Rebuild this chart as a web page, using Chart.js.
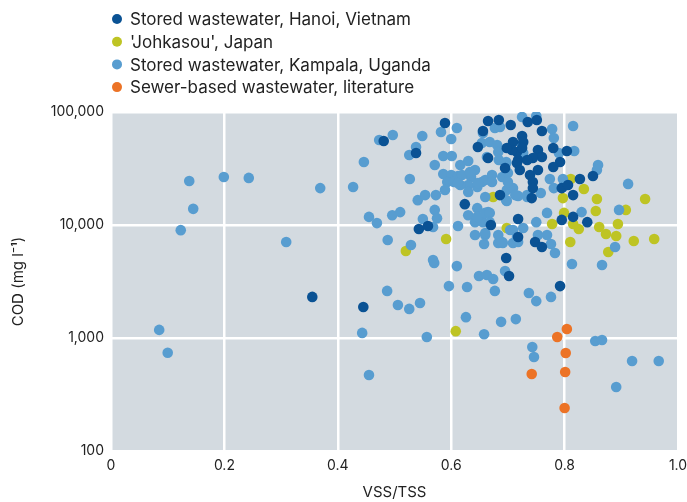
<!DOCTYPE html>
<html>
<head>
<meta charset="utf-8">
<script src="https://cdn.jsdelivr.net/npm/chart.js@4.4.1/dist/chart.umd.min.js"></script>
<style>
  html, body { margin: 0; padding: 0; background: #fff; }
  #wrap { width: 687px; height: 502px; }
</style>
</head>
<body>
<div id="wrap"><canvas id="chart"></canvas></div>
<script>
const seriesNames = ['Stored wastewater, Hanoi, Vietnam', "'Johkasou', Japan", 'Stored wastewater, Kampala, Uganda', 'Sewer-based wastewater, literature'];
const seriesColors = ['#0a5294', '#bec424', '#589dd0', '#ec7326'];

const yTicks = [100, 1000, 10000, 100000];

// Hanoi (VSS/TSS, COD mg/l)
const hanoiX = [0.355,0.445,0.481,0.538,0.589,0.543,0.559,0.624,0.670,0.718,0.718,0.697,0.702,0.792,0.686,0.665,0.684,0.705,0.656,0.647,0.665,0.695,0.716,0.718,0.709,0.735,0.751,0.760,0.725,0.727,0.725,0.707,0.753,0.760,0.744,0.734,0.716,0.721,0.739,0.753,0.780,0.804,0.792,0.780,0.850,0.827,0.744,0.744,0.742,0.815,0.795,0.806,0.815,0.795,0.840,0.748,0.760,0.698];
const hanoiY = [2310,1880,55400,43400,80000,9220,9800,15300,10000,11300,7840,5100,3540,2880,18400,83200,85000,76800,68000,49000,39200,31900,44300,37600,54300,81600,85000,68000,61400,54300,48000,46100,46100,40000,39200,37600,35400,30700,27700,30700,48000,45200,36100,32600,27100,25500,24000,21200,17300,18400,21200,22600,11800,11100,10600,7080,6380,48000];

// Johkasou
const johkasouX = [0.520,0.591,0.608,0.674,0.698,0.811,0.834,0.797,0.857,0.942,0.799,0.855,0.908,0.778,0.815,0.825,0.861,0.894,0.873,0.891,0.922,0.958,0.810,0.877];
const johkasouY = [5890,7520,1150,17700,9400,25500,20800,17300,17000,17000,12800,13300,13600,10200,10200,9220,9600,10200,8320,8000,7210,7520,7080,5770];

// Kampala
const kampalaX = [0.085,0.100,0.123,0.138,0.145,0.199,0.243,0.309,0.369,0.427,0.443,0.455,0.487,0.506,0.526,0.545,0.557,0.596,0.628,0.626,
  0.658,0.649,0.663,0.674,0.677,0.688,0.714,0.695,0.737,0.750,0.776,0.743,0.746,0.854,0.866,0.891,0.919,0.966,0.529,0.570,
  0.610,0.658,0.683,0.691,0.709,0.718,0.488,0.455,0.469,0.496,0.510,0.473,0.497,0.549,0.582,0.600,0.610,0.538,0.526,0.446,
  0.527,0.586,0.601,0.571,0.616,0.630,0.586,0.600,0.612,0.593,0.605,0.589,0.642,0.635,0.630,0.616,0.630,0.654,0.646,0.541,
  0.554,0.573,0.660,0.697,0.698,0.709,0.646,0.665,0.630,0.642,0.656,0.727,0.709,0.642,0.660,0.683,0.571,0.550,0.575,0.568,
  0.612,0.568,0.725,0.750,0.815,0.778,0.781,0.727,0.790,0.817,0.697,0.859,0.857,0.774,0.797,0.781,0.758,0.912,0.718,0.734,
  0.769,0.830,0.896,0.750,0.753,0.769,0.776,0.783,0.889,0.813,0.866,0.677,0.686,0.656,0.654,0.668,0.681,0.663,0.683,0.684,
  0.697,0.619,0.633,0.660,0.672,0.690,0.700,0.700,0.612,0.647,0.672,0.698,0.713,0.646,0.660,0.668,0.668,0.660,0.690,0.734,
  0.797,0.704,0.716,0.725];
const kampalaY = [1180,740,9000,24500,13900,26600,26100,7080,21200,21700,1110,471,2610,1960,1810,2040,1020,2880,2830,1530,
  1080,3540,3610,3330,2610,1390,1470,3920,2500,2120,2310,832,679,940,960,368,625,625,6650,4610,
  4330,6790,6930,6930,6930,7080,7360,11800,10400,12200,13000,56500,62600,61400,66600,57700,72200,49000,41600,36100,
  25500,40800,40800,34000,34000,36800,28300,27700,27100,24000,24000,20400,30700,26600,22600,22600,19600,24000,21700,16600,
  18400,18400,17700,16600,20400,21200,14100,13000,12200,10600,10600,9400,9030,8160,8160,8160,13600,11300,11500,9600,
  9800,4900,90300,92000,75200,70700,58900,43400,43400,45200,36100,34000,30700,25500,25500,21200,19200,23100,18100,17700,
  12800,13000,13600,10600,8160,8160,6790,5650,6380,4520,4430,72200,73700,65200,53200,54300,51100,40000,44300,37600,
  35400,27700,29400,25000,27700,26600,28800,24000,23500,23500,24000,16300,18400,11800,12800,12800,10600,8500,7080,18400,
  21700,9030,7840,51100];

// Sewer-based, literature
const sewerX = [0.742,0.787,0.804,0.802,0.801,0.800];
const sewerY = [480,1020,1200,736,500,240];

const toPoints = (xs, ys) => xs.map((x, i) => ({ x: x, y: ys[i] }));

const textColor = '#222222';
const fontFamily = 'Inter, "Noto Sans", sans-serif';

// grey plot panel behind the points
const panelPlugin = {
    id: 'panel',
    beforeDraw(chart) {
        const { ctx, chartArea } = chart;
        ctx.save();
        ctx.fillStyle = '#d3dae0';
        ctx.fillRect(chartArea.left, chartArea.top, chartArea.right - chartArea.left, chartArea.bottom - chartArea.top);
        ctx.restore();
    }
};

// legend stacked one entry per row, above the plot
const stackedLegend = {
    id: 'stackedLegend',
    afterDraw(chart) {
        const ctx = chart.ctx;
        ctx.save();
        ctx.font = '17px ' + fontFamily;
        ctx.textBaseline = 'middle';
        chart.data.datasets.forEach((ds, i) => {
            const y = 19 + i * 22.7;
            ctx.fillStyle = ds.backgroundColor;
            ctx.beginPath();
            ctx.arc(117, y, 5, 0, Math.PI * 2);
            ctx.fill();
            ctx.fillStyle = textColor;
            ctx.fillText(ds.label, 130, y + 1);
        });
        ctx.restore();
    }
};

const makeSet = (i, xs, ys, order) => ({
    label: seriesNames[i],
    data: toPoints(xs, ys),
    backgroundColor: seriesColors[i],
    borderWidth: 0,
    pointRadius: 5.3,
    order: order
});

const ctx = document.getElementById('chart').getContext('2d');
new Chart(ctx, {
    type: 'scatter',
    data: {
        datasets: [
            makeSet(0, hanoiX, hanoiY, 0),
            makeSet(1, johkasouX, johkasouY, 2),
            makeSet(2, kampalaX, kampalaY, 1),
            makeSet(3, sewerX, sewerY, 3)
        ]
    },
    options: {
        responsive: true,
        maintainAspectRatio: false,
        animation: false,
        layout: { padding: { top: 112, right: 9, left: 0, bottom: 0 } },
        plugins: {
            legend: { display: false },
            tooltip: { enabled: false }
        },
        scales: {
            x: {
                type: 'linear',
                min: 0,
                max: 1,
                afterFit: s => { s.height = 51; s.paddingLeft = 0; s.paddingRight = 0; },
                ticks: {
                    stepSize: 0.2,
                    padding: 6,
                    color: textColor,
                    font: { family: fontFamily, size: 14 },
                    callback: v => v === 0 ? '0' : v.toFixed(1)
                },
                grid: { color: '#ffffff', lineWidth: 2.5, drawTicks: false },
                border: { display: false },
                title: {
                    display: true,
                    text: 'VSS/TSS',
                    color: textColor,
                    font: { family: fontFamily, size: 15 },
                    padding: { top: 0, bottom: 1 }
                }
            },
            y: {
                type: 'logarithmic',
                min: 100,
                max: 100000,
                afterFit: s => { s.width = 111; },
                afterBuildTicks: s => { s.ticks = yTicks.map(v => ({ value: v })); },
                ticks: {
                    padding: 7,
                    color: textColor,
                    font: { family: fontFamily, size: 14 },
                    callback: v => v.toLocaleString('en-US')
                },
                grid: { color: '#ffffff', lineWidth: 2.5, drawTicks: false },
                border: { display: false },
                title: {
                    display: true,
                    text: 'COD (mg l\u207B\u00B9)',
                    color: textColor,
                    font: { family: fontFamily, size: 15 },
                    padding: { top: 9, bottom: 0 }
                }
            }
        }
    },
    plugins: [panelPlugin, stackedLegend]
});
</script>
</body>
</html>
